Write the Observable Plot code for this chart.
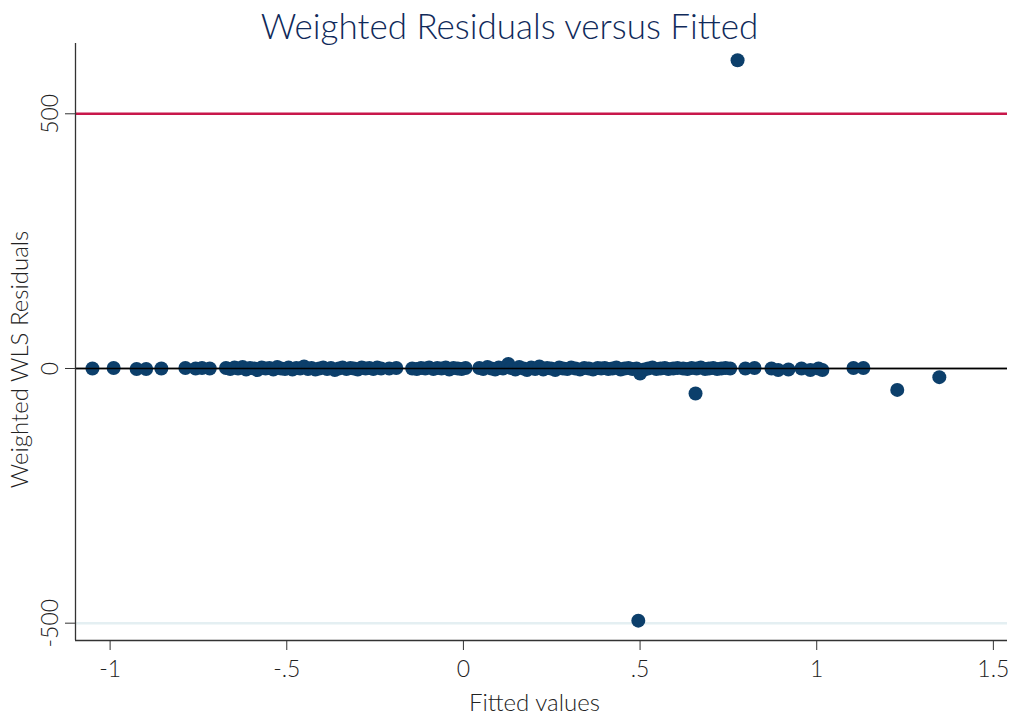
<!DOCTYPE html>
<html>
<head>
<meta charset="utf-8">
<script src="https://cdn.jsdelivr.net/npm/d3@7"></script>
<script src="https://cdn.jsdelivr.net/npm/@observablehq/plot@0.6"></script>
<style>
  html, body { margin: 0; padding: 0; background: #fff; }
  #title { height: 43px; width: 1009px; text-align: center; font-family: Lato, "Open Sans", sans-serif; font-weight: 300; font-size: 35px; color: #102a5a; line-height: 50px; padding-left: 10px; box-sizing: border-box; white-space: nowrap; }
  #chart svg { display: block; }
</style>
</head>
<body>
<div id="title">Weighted Residuals versus Fitted</div>
<div id="chart"></div>
<script>
// Fitted values (x) and weighted WLS residuals (y)
const fitted = [
  -1.05, -0.99, -0.925, -0.898, -0.855, -0.787, -0.758, -0.74, -0.718,
  -0.672, -0.66, -0.648, -0.638, -0.625, -0.615, -0.604, -0.592, -0.583, -0.571,
  -0.56, -0.549, -0.538, -0.527, -0.516, -0.505, -0.495, -0.484, -0.473, -0.462,
  -0.451, -0.44, -0.43, -0.419, -0.408, -0.397, -0.386, -0.375, -0.364, -0.353,
  -0.342, -0.331, -0.32, -0.31, -0.299, -0.288, -0.277, -0.266, -0.255, -0.244, -0.233,
  -0.21, -0.19,
  -0.145, -0.132, -0.12, -0.108, -0.097, -0.085, -0.074, -0.062, -0.05, -0.04,
  -0.028, -0.016, -0.005, 0.006,
  0.045, 0.056, 0.068, 0.079, 0.09, 0.1, 0.112, 0.127, 0.135, 0.147, 0.158, 0.17,
  0.18, 0.192, 0.203, 0.215, 0.226, 0.237, 0.248, 0.26, 0.271, 0.282, 0.294,
  0.305, 0.317, 0.33, 0.342, 0.355, 0.367, 0.38, 0.39,
  0.40, 0.41, 0.422, 0.433, 0.445, 0.456, 0.467, 0.478, 0.49, 0.495,
  0.5, 0.512, 0.523, 0.535, 0.546, 0.558, 0.57, 0.58, 0.594, 0.606,
  0.622, 0.634, 0.646, 0.657, 0.66, 0.672, 0.684, 0.695, 0.707, 0.718, 0.73, 0.742, 0.755,
  0.776, 0.798, 0.824,
  0.872, 0.891, 0.92, 0.957, 0.982, 1.005, 1.016,
  1.104, 1.132, 1.228, 1.347
];
const resid = [
  0, 1, -1, -1, 0, 1, 0, 1, 0,
  1, -1, 2, 0, 3, -2, 1, 0, -3, 2,
  0, 1, -2, 3, 0, -1, 2, -2, 1, 0,
  4, -1, 1, -2, 0, 2, -1, 1, -3, 0,
  2, -1, 1, 0, -2, 2, 0, 1, -1, 2, 0,
  0, 1,
  0, -1, 1, 0, 2, -1, 1, 0, 2, -2,
  1, 0, -1, 1,
  1, -1, 3, 0, -2, 2, 0, 9, 1, -2, 3, 0,
  -3, 2, -1, 4, -2, 1, 0, -3, 2, 0, -1,
  2, 0, -2, 1, 0, -2, 1, 0,
  1, -1, 0, 2, -2, 0, 1, -1, 0, -495,
  -10, -2, 0, 2, -1, 0, 1, -1, 0, 1,
  0, -1, 1, -49, 0, 2, -1, 0, 1, -1, 0, 1, 0,
  605, 0, 1,
  0, -3, -2, 0, -3, 0, -3,
  1, 1, -42, -17
];
const xTicks = [-1, -0.5, 0, 0.5, 1, 1.5];
const xTickLabels = ["-1", "-.5", "0", ".5", "1", "1.5"];
const yTicks = [-500, 0, 500];
const yTickLabels = ["-500", "0", "500"];
const refLines = [500, -500];
const refColors = ["#c8174a", "#e4eff2"];

const xDomain = [-1.098, 1.54];
const yDomain = [-534, 638];

const data = fitted.map((f, i) => ({f, r: resid[i]}));
const refs = refLines.map((v, i) => ({v, c: refColors[i]}));
const yLab = yTicks.map((v, i) => ({v, t: yTickLabels[i]}));

const font = "Lato, 'Open Sans', sans-serif";

const chart = Plot.plot({
  width: 1009,
  height: 672,
  marginLeft: 75,
  marginRight: 2,
  marginTop: 0,
  marginBottom: 75,
  style: {fontFamily: font, background: "#fff", overflow: "visible"},
  x: {domain: xDomain, axis: null},
  y: {domain: yDomain, axis: null},
  marks: [
    Plot.ruleY(refs, {y: "v", stroke: "c", strokeWidth: 2.5}),
    Plot.ruleY([0], {stroke: "#c8c8c8", strokeWidth: 3}),
    Plot.dot(data, {x: "f", y: "r", r: 7, fill: "#0c3f6b", stroke: "none"}),
    Plot.ruleY([0], {stroke: "#000", strokeWidth: 1.3}),
    Plot.ruleX([xDomain[0]], {stroke: "#333", strokeWidth: 1.3}),
    Plot.ruleY([yDomain[0]], {stroke: "#333", strokeWidth: 1.3}),
    Plot.axisX({ticks: xTicks, tickFormat: (d) => xTickLabels[xTicks.indexOf(d)], label: null, tickSize: 10, tickPadding: 10, fontSize: 23, stroke: "#333", fill: "#222", fontWeight: 300}),
    Plot.axisY({ticks: yTicks, tickSize: 10, tickFormat: () => "", label: null, stroke: "#333"}),
    Plot.text(yLab, {x: () => xDomain[0], y: "v", text: "t", rotate: -90, dx: -25, fontSize: 23, fill: "#222", fontWeight: 300}),
    Plot.text(["Weighted WLS Residuals"], {x: () => xDomain[0], y: () => 17.7, rotate: -90, dx: -55, fontSize: 24, fill: "#222", fontWeight: 300}),
    Plot.text(["Fitted values"], {x: () => 0.201, y: () => yDomain[0], dy: 63, fontSize: 24, fill: "#222", fontWeight: 300})
  ]
});
document.getElementById("chart").appendChild(chart);
</script>
</body>
</html>
